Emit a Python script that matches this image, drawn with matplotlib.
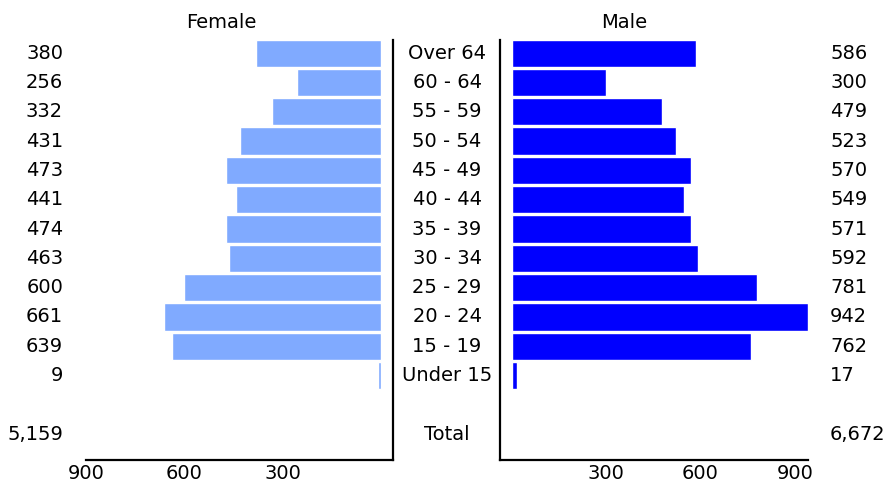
import matplotlib
matplotlib.use("Agg")
import matplotlib.pyplot as plt
from matplotlib.transforms import blended_transform_factory
import warnings
warnings.filterwarnings("ignore")

categories = ["Over 64", "60 - 64", "55 - 59", "50 - 54", "45 - 49", "40 - 44",
              "35 - 39", "30 - 34", "25 - 29", "20 - 24", "15 - 19", "Under 15"]
female = [380, 256, 332, 431, 473, 441, 474, 463, 600, 661, 639, 9]
male = [586, 300, 479, 523, 570, 549, 571, 592, 781, 942, 762, 17]
ticks = [300, 600, 900]
female_color = "#80AAFF"
male_color = "#0000FF"

plt.rcParams['font.family'] = ['DejaVu Sans Condensed', 'DejaVu Sans']
FS = 14

W, H = 886, 487
fig = plt.figure(figsize=(W / 100, H / 100), dpi=100)

def px_ax(x0, x1, y0, y1):
    return fig.add_axes([x0 / W, 1 - y1 / H, (x1 - x0) / W, (y1 - y0) / H])

axL = px_ax(86, 393, 40, 460)
axR = px_ax(500, 808, 40, 460)

ypos = list(range(len(categories)))
total_y = len(categories) + 1

axL.barh(ypos, female, height=0.93, color=female_color, edgecolor="white", linewidth=1)
axR.barh(ypos, male, height=0.93, color=male_color, edgecolor="white", linewidth=1)

axL.set_xlim(900, -37)
axR.set_xlim(-38, 942)
for ax in (axL, axR):
    ax.set_ylim(total_y + 0.88, -0.45)
    ax.set_yticks([])
    ax.set_xticks(ticks)
    ax.set_xticklabels([f"{t}" for t in ticks], fontsize=FS)
    ax.tick_params(axis="x", length=0, pad=3)
    ax.spines["top"].set_visible(False)
    for s in ax.spines.values():
        s.set_linewidth(1.6)
axL.spines["left"].set_visible(False)
axR.spines["right"].set_visible(False)

trL = blended_transform_factory(fig.transFigure, axL.transData)
for i, (c, f, m) in enumerate(zip(categories, female, male)):
    axL.text(447 / W, i, c, transform=trL, ha="center", va="center", fontsize=FS)
    axL.text(63 / W, i, f"{f:,}", transform=trL, ha="right", va="center", fontsize=FS)
    axL.text(830 / W, i, f"{m:,}", transform=trL, ha="left", va="center", fontsize=FS)

axL.text(447 / W, total_y, "Total", transform=trL, ha="center", va="center", fontsize=FS)
axL.text(63 / W, total_y, f"{sum(female):,}", transform=trL, ha="right", va="center", fontsize=FS)
axL.text(830 / W, total_y, f"{sum(male):,}", transform=trL, ha="left", va="center", fontsize=FS)

fig.text(221 / W, 1 - 22 / H, "Female", ha="center", va="center", fontsize=FS)
fig.text(624 / W, 1 - 22 / H, "Male", ha="center", va="center", fontsize=FS)

fig.savefig("out.png", dpi=100)
